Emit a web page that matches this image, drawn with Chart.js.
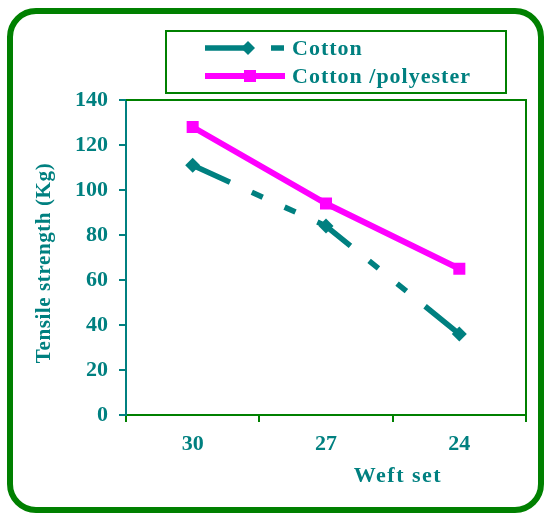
<!DOCTYPE html>
<html>
<head>
<meta charset="utf-8">
<script src="https://cdn.jsdelivr.net/npm/chart.js@4/dist/chart.umd.min.js"></script>
<style>
html,body{margin:0;padding:0;background:#fff;}
#c{display:block;}
</style>
</head>
<body>
<canvas id="c" width="549" height="514"></canvas>
<script>
const categories = ['30', '27', '24'];
const cottonValues = [111, 84, 36];
const polyValues = [128, 94, 65];
const seriesNames = ['Cotton', 'Cotton /polyester'];
const xTitle = 'Weft set';
const yTitle = 'Tensile strength (Kg)';

const TEAL = '#008080';
const MAGENTA = '#FF00FF';
const GREEN = '#008000';
const FONT = "'Liberation Serif', 'Times New Roman', serif";

function roundRect(ctx, x, y, w, h, r) {
  ctx.beginPath();
  ctx.moveTo(x + r, y);
  ctx.lineTo(x + w - r, y);
  ctx.arcTo(x + w, y, x + w, y + r, r);
  ctx.lineTo(x + w, y + h - r);
  ctx.arcTo(x + w, y + h, x + w - r, y + h, r);
  ctx.lineTo(x + r, y + h);
  ctx.arcTo(x, y + h, x, y + h - r, r);
  ctx.lineTo(x, y + r);
  ctx.arcTo(x, y, x + r, y, r);
  ctx.closePath();
}

const decor = {
  id: 'decor',
  beforeDraw(chart) {
    const ctx = chart.ctx;
    ctx.save();
    ctx.fillStyle = '#fff';
    ctx.fillRect(0, 0, chart.width, chart.height);
    ctx.lineWidth = 6;
    ctx.strokeStyle = GREEN;
    roundRect(ctx, 10, 11, 531, 499, 26);
    ctx.stroke();
    ctx.restore();
  },
  afterDraw(chart) {
    const ctx = chart.ctx;
    const a = chart.chartArea;
    ctx.save();
    // plot top & right border
    ctx.strokeStyle = GREEN;
    ctx.lineWidth = 2;
    ctx.beginPath();
    ctx.moveTo(a.left, a.top);
    ctx.lineTo(a.right, a.top);
    ctx.lineTo(a.right, a.bottom);
    ctx.stroke();

    // axis titles
    ctx.fillStyle = TEAL;
    ctx.textAlign = 'center';
    ctx.textBaseline = 'middle';
    ctx.font = "bold 21px " + FONT;
    try { ctx.letterSpacing = '0.6px'; } catch (e) {}
    ctx.save();
    ctx.translate(45, 263);
    ctx.rotate(-Math.PI / 2);
    ctx.fillText(yTitle, 0, 0);
    ctx.restore();
    ctx.font = "bold 22px " + FONT;
    try { ctx.letterSpacing = '1.5px'; } catch (e) {}
    ctx.fillText(xTitle, 398, 476);

    // legend box
    ctx.strokeStyle = GREEN;
    ctx.lineWidth = 2;
    ctx.strokeRect(166, 31, 340, 62);

    // legend entries
    const ds = chart.data.datasets;
    const rows = [48, 76];
    ds.forEach((d, i) => {
      const y = rows[i];
      ctx.save();
      ctx.strokeStyle = d.borderColor;
      ctx.lineWidth = d.borderWidth;
      if (i === 0) {
        ctx.setLineDash([44, 22, 13, 100]);
      } else {
        ctx.setLineDash([]);
      }
      ctx.beginPath();
      ctx.moveTo(205, y);
      ctx.lineTo(285, y);
      ctx.stroke();
      ctx.setLineDash([]);
      ctx.fillStyle = d.pointBackgroundColor;
      const cx = i === 0 ? 248 : 250;
      if (i === 0) {
        ctx.beginPath();
        ctx.moveTo(cx, y - 7);
        ctx.lineTo(cx + 7, y);
        ctx.lineTo(cx, y + 7);
        ctx.lineTo(cx - 7, y);
        ctx.closePath();
        ctx.fill();
      } else {
        ctx.fillRect(cx - 6, y - 6, 12, 12);
      }
      ctx.restore();
      ctx.fillStyle = TEAL;
      ctx.font = "bold 22px " + FONT;
      ctx.textAlign = 'left';
      ctx.textBaseline = 'middle';
      try { ctx.letterSpacing = '1px'; } catch (e) {}
      ctx.fillText(d.label, 292, y + 1);
    });
    ctx.restore();
  }
};

new Chart(document.getElementById('c'), {
  type: 'line',
  data: {
    labels: categories,
    datasets: [
      {
        label: seriesNames[0],
        data: cottonValues,
        borderColor: TEAL,
        backgroundColor: TEAL,
        pointBackgroundColor: TEAL,
        pointBorderColor: TEAL,
        borderWidth: 5.5,
        borderDash: [41, 24, 12, 24, 12, 24],
        pointStyle: 'rectRot',
        pointRadius: 7.5,
        pointBorderWidth: 0,
        tension: 0,
        fill: false
      },
      {
        label: seriesNames[1],
        data: polyValues,
        borderColor: MAGENTA,
        backgroundColor: MAGENTA,
        pointBackgroundColor: MAGENTA,
        pointBorderColor: MAGENTA,
        borderWidth: 6,
        pointStyle: 'rect',
        pointRadius: 8.5,
        pointBorderWidth: 0,
        tension: 0,
        fill: false
      }
    ]
  },
  options: {
    responsive: false,
    animation: false,
    devicePixelRatio: 1,
    layout: { padding: { left: 0, top: 100, right: 23, bottom: 0 } },
    plugins: {
      legend: { display: false },
      title: { display: false },
      tooltip: { enabled: false }
    },
    scales: {
      x: {
        type: 'category',
        offset: true,
        grid: {
          offset: true,
          display: true,
          drawOnChartArea: false,
          drawTicks: true,
          tickLength: 7,
          color: GREEN,
          lineWidth: 2
        },
        border: { display: true, color: GREEN, width: 2 },
        ticks: {
          color: TEAL,
          padding: 9,
          font: { family: FONT, size: 22, weight: 'bold' },
          maxRotation: 0
        },
        afterFit(scale) { scale.height = 99; }
      },
      y: {
        min: 0,
        max: 140,
        grid: {
          display: true,
          drawOnChartArea: false,
          drawTicks: true,
          tickLength: 7,
          color: TEAL,
          lineWidth: 2
        },
        border: { display: true, color: TEAL, width: 2 },
        ticks: {
          stepSize: 20,
          color: TEAL,
          padding: 11,
          font: { family: FONT, size: 22, weight: 'bold' }
        },
        afterFit(scale) { scale.width = 126; }
      }
    }
  },
  plugins: [decor]
});
</script>
</body>
</html>
